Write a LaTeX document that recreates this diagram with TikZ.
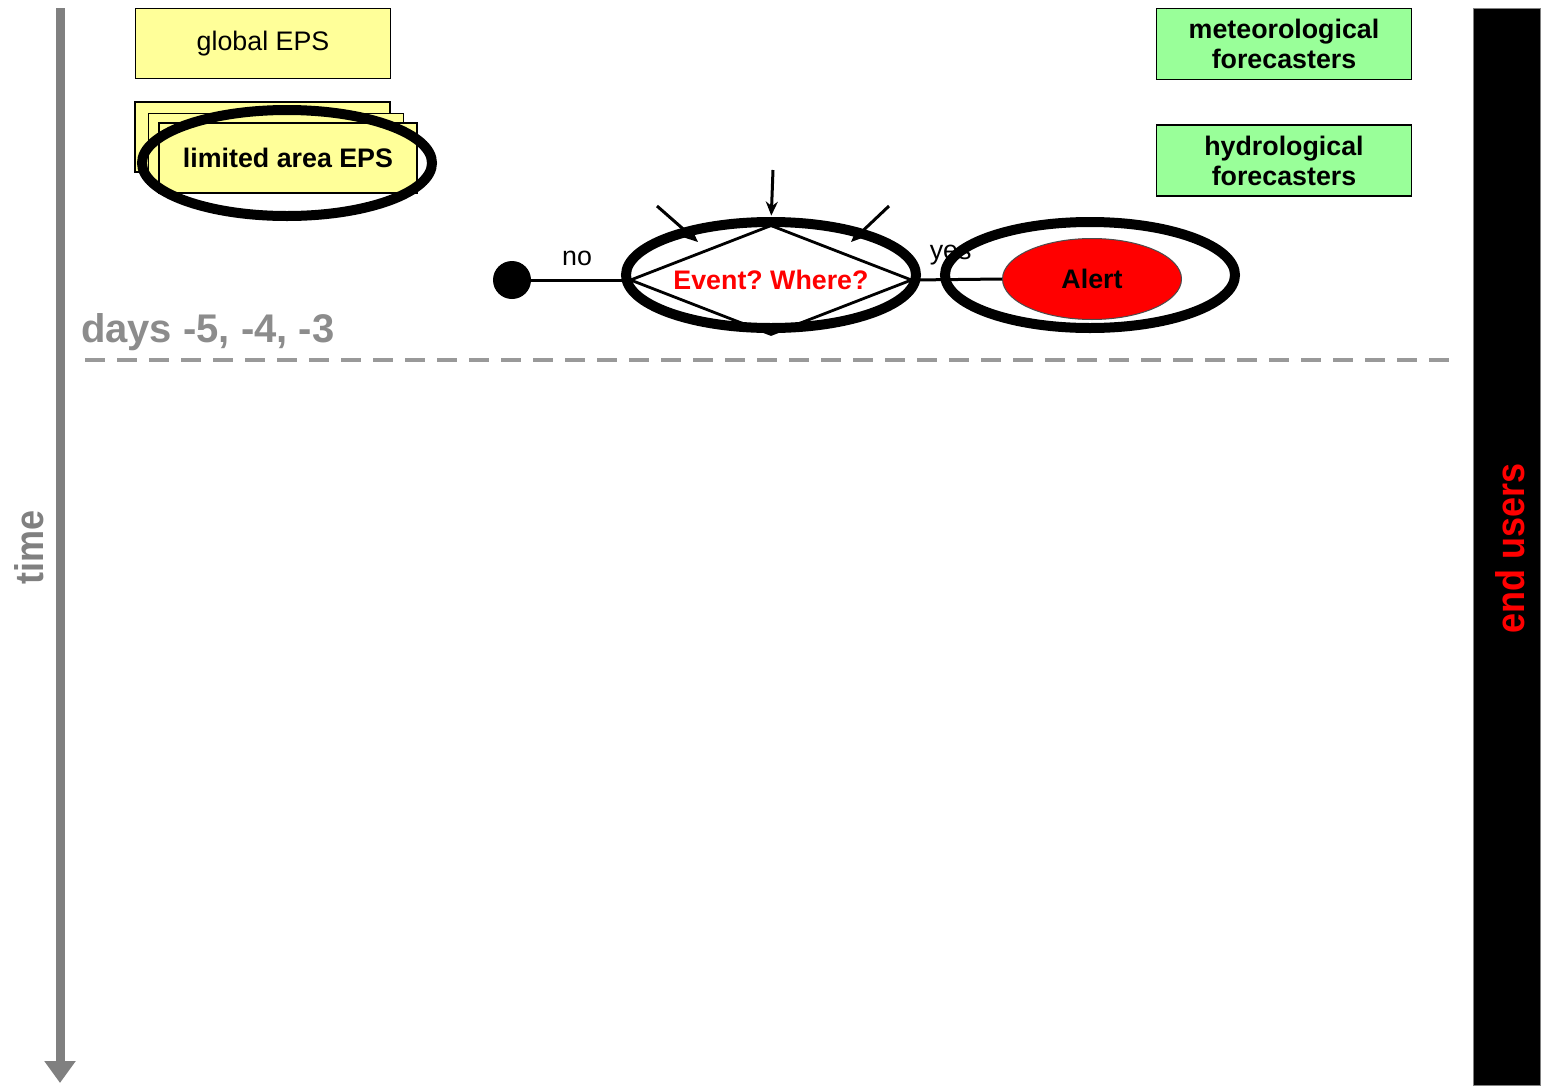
\documentclass[tikz,border=0pt]{standalone}
\usepackage{fontspec}
\setmainfont{Liberation Sans}
\setsansfont{Liberation Sans}
\newfontfamily\condfont[FakeStretch=0.9]{Liberation Sans}
\usetikzlibrary{shapes.geometric,arrows.meta}
\definecolor{epsyellow}{HTML}{FFFF99}
\definecolor{fcgreen}{HTML}{99FF99}
\definecolor{timegray}{HTML}{808080}
\definecolor{daysgray}{HTML}{8C8C8C}
\definecolor{dashgray}{HTML}{999999}
\frenchspacing
\begin{document}
\begin{tikzpicture}[x=0.5pt,y=-0.5pt,
  every node/.style={font=\sffamily\fontsize{13.4}{15}\selectfont},
  ybox/.style={draw=black, line width=0.75pt, fill=epsyellow, inner sep=0pt, minimum width=127.5pt, minimum height=35pt, align=center},
  gbox/.style={draw=black, line width=0.75pt, fill=fcgreen, inner sep=0pt, minimum width=127.5pt, minimum height=35.5pt, align=center, font=\sffamily\bfseries\fontsize{13.4}{15}\selectfont},
  conn/.style={draw=black, line width=1.5pt},
  intip/.style={-{Stealth[length=7pt,width=6pt]}},
  hl/.style={ellipse, draw=black, line width=5pt, minimum width=145pt, minimum height=53pt, inner sep=0pt},
  biglbl/.style={font=\condfont\bfseries\fontsize{20}{24}\selectfont}
]
\fill[white] (0,0) rectangle (1543,1087);
\useasboundingbox (0,0) rectangle (1543,1087);

% time axis
\coordinate (t0) at (60,8);
\coordinate (t1) at (60,1083);
\draw[timegray, line width=4.5pt, -{Triangle[width=15pt,length=11pt]}] (t0) -- (t1);
\node[rotate=90, text=timegray, biglbl] (timelbl) at (29,547) {time};

% EPS boxes
\node[ybox] (geps) at (263,43.5) {global EPS};
\node[ybox] (lam1) at (262.5,137) {};
\node[ybox] (lam2) at (276,148.5) {};
\node[ybox, minimum width=129pt, font=\sffamily\bfseries\fontsize{13.4}{15}\selectfont] (lam3) at (288,158) {limited area EPS};

% forecasters
\node[gbox] (met) at (1284,44) {meteorological\\forecasters};
\node[gbox] (hyd) at (1284,160.5) {hydrological\\forecasters};

% decision
\node[diamond, draw=black, line width=1.4pt, aspect=2.6, inner sep=0pt, minimum width=141pt, minimum height=55pt, text=red, font=\sffamily\bfseries\fontsize{13.4}{15}\selectfont] (dia) at (771,280) {Event? Where?};
\node[circle, fill=black, minimum size=19pt, inner sep=0pt] (start) at (512,280) {};
\node[ellipse, draw=black!70, line width=0.5pt, fill=red, minimum width=89.5pt, minimum height=40.5pt, inner sep=0pt, font=\sffamily\bfseries\fontsize{13.4}{15}\selectfont] (alert) at (1092,279) {Alert};

\draw[conn] (start) -- (dia.west) node[pos=0.47, above=3pt] {no};
\draw[conn] (dia.east) -- (alert.west) node[pos=0.42, above=3pt] {yes};

\coordinate (a1s) at (773,170);
\coordinate (a2s) at (657,206);
\coordinate (a2e) at (698,242);
\coordinate (a3s) at (889,206);
\coordinate (a3e) at (851,242);
\draw[conn, intip, shorten >=4pt] (a1s) -- (dia.north);
\draw[conn, intip] (a2s) -- (a2e);
\draw[conn, intip] (a3s) -- (a3e);

% days separator
\node[anchor=west, text=daysgray, font=\sffamily\bfseries\fontsize{20}{24}\selectfont] (days) at (74,332) {days -5, -4, -3};
\coordinate (d0) at (85,360);
\coordinate (d1) at (1452,360);
\draw[dashgray, line width=2pt, dash pattern=on 10pt off 6pt] (d0) -- (d1);

% end users
\node[fill=black, draw=gray, line width=0.5pt, minimum width=33.5pt, minimum height=538.5pt, inner sep=0pt] (eu) at (1506.5,546.5) {};
\node[rotate=90, text=red, biglbl] (eulbl) at (1510,548) {end users};

% highlight ellipses
\node[hl] (hllam) at (287,163) {};
\node[hl] (hldia) at (771,275) {};
\node[hl] (hlalert) at (1090,275) {};
\end{tikzpicture}
\end{document}
